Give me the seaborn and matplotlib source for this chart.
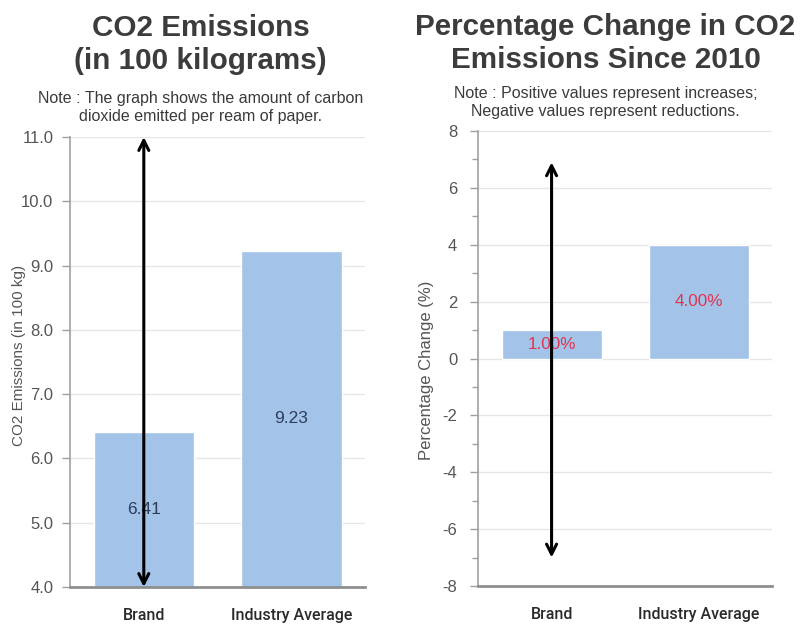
import matplotlib
matplotlib.use("Agg")
import matplotlib.pyplot as plt
import seaborn as sns
import pandas as pd
from matplotlib.ticker import MultipleLocator, FormatStrFormatter

# Data
categories = ["Brand", "Industry Average"]
emissions = [6.41, 9.23]          # CO2 in 100 kg per ream
pct_change = [1.00, 4.00]         # % change since 2010

emission_labels = ["6.41", "9.23"]
pct_labels = ["1.00%", "4.00%"]

sns.set_theme(style="white")
plt.rcParams["font.family"] = ["Liberation Sans", "DejaVu Sans"]
plt.rcParams["axes.unicode_minus"] = False

BAR = "#a3c3e8"
GRID = "#e6e6e6"
SPINE = "#a0a0a0"
TICK_TXT = "#555555"
TITLE = "#3c3c3c"

fig = plt.figure(figsize=(8.02, 6.24), dpi=100)
ax1 = fig.add_axes([0.0873, 0.0593, 0.368, 0.7211])
ax2 = fig.add_axes([0.596, 0.0609, 0.367, 0.7291])

df1 = pd.DataFrame({"cat": categories, "val": emissions})
df2 = pd.DataFrame({"cat": categories, "val": pct_change})

sns.barplot(data=df1, x="cat", y="val", color=BAR, saturation=1, width=0.68, ax=ax1)
sns.barplot(data=df2, x="cat", y="val", color=BAR, saturation=1, width=0.68, ax=ax2)


def style_axes(ax, pad):
    ax.set_xlim(-0.5, 1.5)
    ax.set_xlabel("")
    ax.grid(axis="y", color=GRID, lw=1)
    ax.set_axisbelow(True)
    for s in ("top", "right"):
        ax.spines[s].set_visible(False)
    ax.spines["left"].set_color(SPINE)
    ax.spines["left"].set_linewidth(1.2)
    ax.spines["bottom"].set_color("#8f8f8f")
    ax.spines["bottom"].set_linewidth(2)
    ax.tick_params(axis="y", which="major", left=True, length=6, width=1,
                   color=SPINE, labelsize=12, labelcolor=TICK_TXT, pad=pad)
    ax.tick_params(axis="y", which="minor", left=True, length=4, width=1, color=SPINE)
    ax.tick_params(axis="x", bottom=False, pad=9)
    for lab in ax.get_xticklabels():
        lab.set_fontfamily("Roboto")
        lab.set_fontsize(11.5)
        lab.set_fontweight("medium")
        lab.set_color("#2a2a2a")


# Left panel: absolute emissions
ax1.set_ylim(4, 11)
ax1.yaxis.set_major_locator(MultipleLocator(1))
ax1.yaxis.set_major_formatter(FormatStrFormatter("%.1f"))
style_axes(ax1, pad=6)
ax1.set_ylabel("CO2 Emissions (in 100 kg)", fontsize=11, color=TICK_TXT)
ax1.yaxis.set_label_coords(-0.15, 0.515)
for i, (v, t) in enumerate(zip(emissions, emission_labels)):
    ax1.text(i, (4 + v) / 2, t, ha="center", va="center", fontsize=12.5, color="#2c3e5c")
ax1.annotate("", xy=(0, 11), xytext=(0, 4), xycoords="data",
             arrowprops=dict(arrowstyle="<->", lw=2.2, color="black",
                             mutation_scale=18, shrinkA=0, shrinkB=0))

# Right panel: percentage change
ax2.set_ylim(-8, 8)
ax2.yaxis.set_major_locator(MultipleLocator(2))
ax2.yaxis.set_minor_locator(MultipleLocator(1))
ax2.yaxis.set_major_formatter(FormatStrFormatter("%d"))
style_axes(ax2, pad=9)
ax2.set_ylabel("Percentage Change (%)", fontsize=12, color=TICK_TXT)
ax2.yaxis.set_label_coords(-0.15, 0.475)
for i, (v, t) in enumerate(zip(pct_change, pct_labels)):
    ax2.text(i, v / 2, t, ha="center", va="center", fontsize=12.3, color="#e2344e")
ax2.annotate("", xy=(0, 6.9), xytext=(0, -7), xycoords="data",
             arrowprops=dict(arrowstyle="<->", lw=2.2, color="black",
                             mutation_scale=18, shrinkA=0, shrinkB=0))

# Titles and notes
fig.text(0.25, 0.9287, "CO2 Emissions\n(in 100 kilograms)", ha="center", va="center",
         fontsize=21.3, fontweight="bold", color=TITLE, linespacing=1.2)
fig.text(0.25, 0.827, "Note : The graph shows the amount of carbon\ndioxide emitted per ream of paper.",
         ha="center", va="center", fontsize=11.5, color="#3a3a3a", linespacing=1.25)
fig.text(0.755, 0.930, "Percentage Change in CO2\nEmissions Since 2010", ha="center", va="center",
         fontsize=21.3, fontweight="bold", color=TITLE, linespacing=1.2)
fig.text(0.755, 0.835, "Note : Positive values represent increases;\nNegative values represent reductions.",
         ha="center", va="center", fontsize=11.5, color="#3a3a3a", linespacing=1.25)

fig.savefig("out.png", dpi=100, facecolor="white")
